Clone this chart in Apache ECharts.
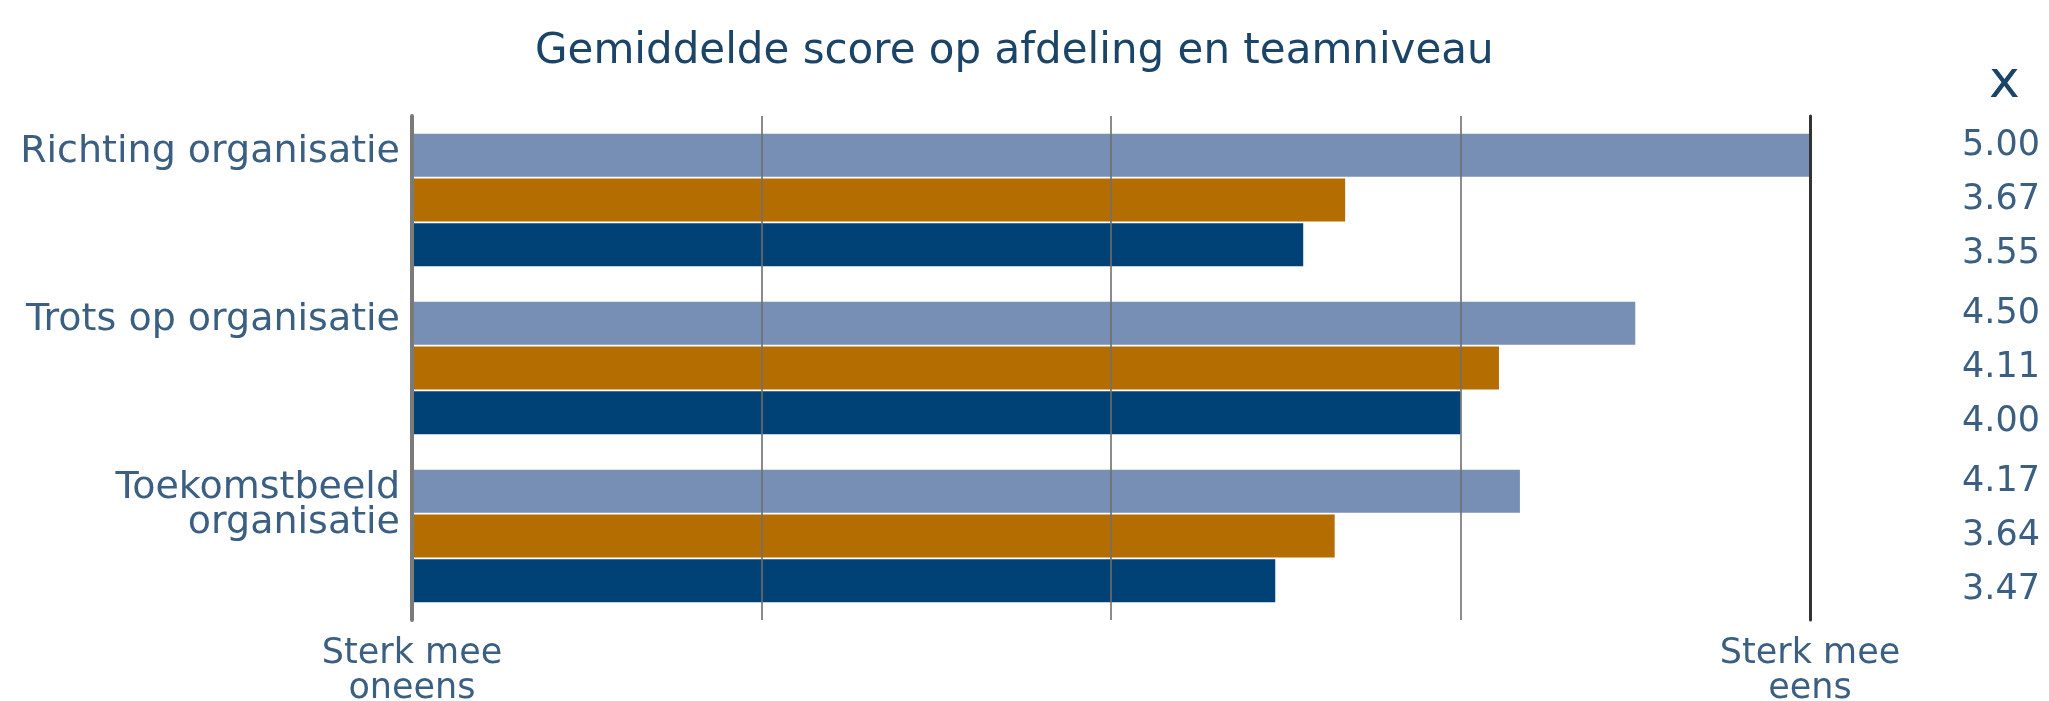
<!DOCTYPE html>
<html>
<head>
<meta charset="utf-8">
<script src="https://cdn.jsdelivr.net/npm/echarts@6/dist/echarts.min.js"></script>
<style>
html, body { margin: 0; padding: 0; background: #fff; }
#chart { width: 2049px; height: 701px; }
</style>
</head>
<body>
<div id="chart"></div>
<script>
const categories = ['Richting organisatie', 'Trots op organisatie', 'Toekomstbeeld\norganisatie']
const seriesNames = ['Afdeling', 'Team', 'Organisatie']
const valuesLight = [5.00, 4.50, 4.17]
const valuesOrange = [3.67, 4.11, 3.64]
const valuesDark = [3.55, 4.00, 3.47]
const axisEnds = { 1: 'Sterk mee\noneens', 5: 'Sterk mee\neens' }

const textColor = '#3a5f82'
const font = 'DejaVu Sans'

let chart = echarts.init(document.getElementById('chart'))

function barSeries(name, data, color) {
	return {
		name: name,
		type: 'bar',
		data: data,
		barWidth: 43,
		barGap: '4%',
		itemStyle: { color: color },
		label: { show: false },
	}
}

let option = {
	backgroundColor: '#fff',
	animation: false,
	title: [
		{
			text: 'Gemiddelde score op afdeling en teamniveau',
			left: 530,
			top: 26,
			textStyle: { color: '#1b4469', fontFamily: font, fontSize: 42, fontWeight: 'normal' },
		},
		{
			text: 'x',
			left: 1984,
			top: 52,
			textStyle: { color: '#1b4469', fontFamily: font, fontSize: 52, fontWeight: 'normal' },
		},
	],
	grid: { left: 412, right: 239, top: 116, bottom: 81, containLabel: false, outerBoundsMode: 'none' },
	xAxis: {
		type: 'value',
		min: 1,
		max: 5,
		interval: 1,
		z: 5,
		axisLine: { show: false },
		axisTick: { show: false },
		splitLine: { show: true, lineStyle: { color: 'rgba(110,110,110,0.8)', width: 2 } },
		axisLabel: {
			color: textColor,
			fontFamily: font,
			fontSize: 35,
			lineHeight: 35,
			margin: 16,
			formatter: function (v) {
				return axisEnds[v] || ''
			},
		},
	},
	yAxis: [
		{
			type: 'category',
			data: categories,
			inverse: true,
			z: 6,
			axisLine: { show: true, lineStyle: { color: '#7a7a7a', width: 4 } },
			axisTick: { show: false },
			axisLabel: {
				interval: 0,
				color: textColor,
				fontFamily: font,
				fontSize: 38,
				lineHeight: 35,
				margin: 12,
				verticalAlign: 'top',
				padding: [-65, 0, 0, 0],
			},
		},
		{
			type: 'category',
			data: categories,
			inverse: true,
			position: 'right',
			z: 6,
			axisLine: { show: true, lineStyle: { color: '#333', width: 3 } },
			axisTick: { show: false },
			axisLabel: {
				interval: 0,
				color: textColor,
				fontFamily: font,
				fontSize: 35,
				lineHeight: 54,
				margin: 230,
				align: 'right',
				padding: [14, 0, 0, 0],
				formatter: function (v, i) {
					return [valuesLight[i], valuesOrange[i], valuesDark[i]].map(n => n.toFixed(2)).join('\n')
				},
			},
		},
	],
	series: [
		barSeries(seriesNames[0], valuesLight, '#778fb5'),
		barSeries(seriesNames[1], valuesOrange, '#b36d00'),
		barSeries(seriesNames[2], valuesDark, '#004275'),
	],
}

chart.setOption(option)
</script>
</body>
</html>
